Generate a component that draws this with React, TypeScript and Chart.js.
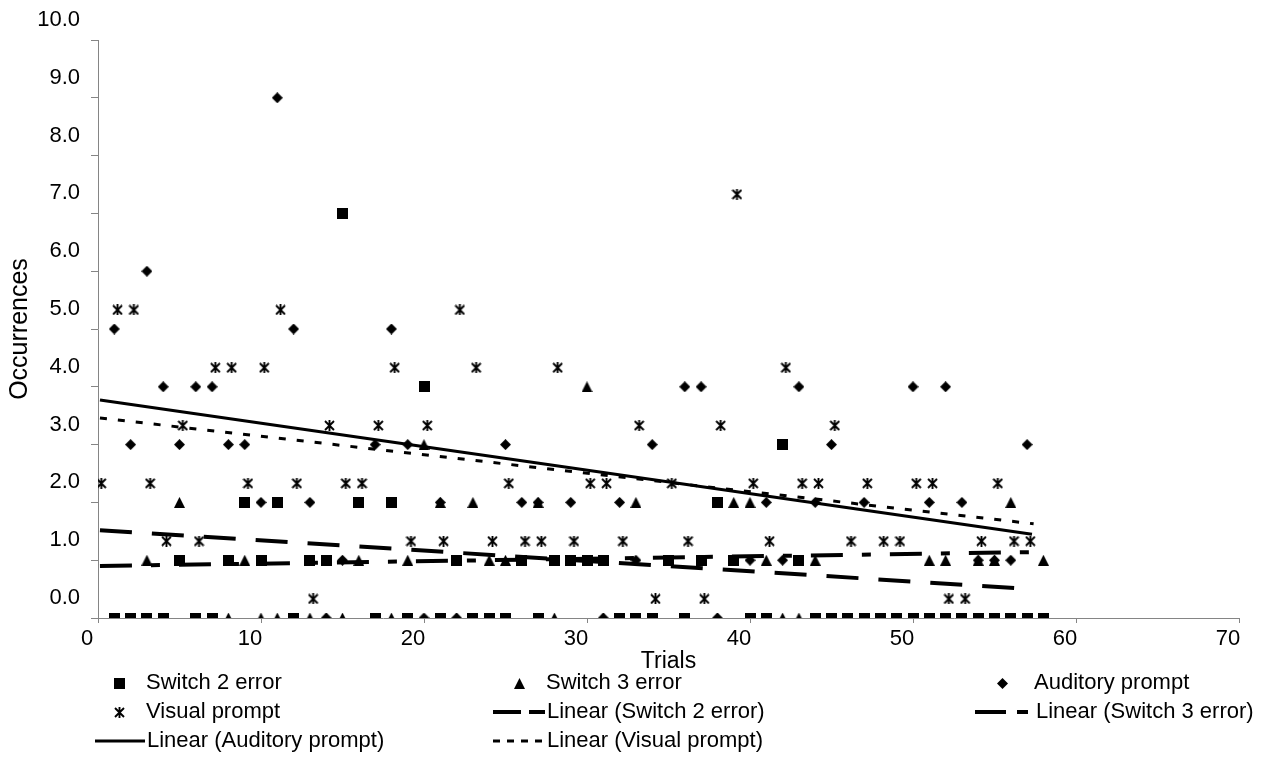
import React, { useEffect, useRef } from 'react';
import { Chart, registerables } from 'chart.js';

Chart.register(...registerables);

const FONT = "'Liberation Sans', Arial, Helvetica, sans-serif";

// ---- data ----
const trials = [
  1, 2, 3, 4, 5, 6, 7, 8, 9, 10, 11, 12, 13, 14, 15, 16, 17, 18, 19, 20,
  21, 22, 23, 24, 25, 26, 27, 28, 29, 30, 31, 32, 33, 34, 35, 36, 37, 38, 39, 40,
  41, 42, 43, 44, 45, 46, 47, 48, 49, 50, 51, 52, 53, 54, 55, 56, 57, 58,
];
const switch2Error = [
  0, 0, 0, 0, 1, 0, 0, 1, 2, 1, 2, 0, 1, 1, 7, 2, 0, 2, 0, 4,
  0, 1, 0, 0, 0, 1, 0, 1, 1, 1, 1, 0, 0, 0, 1, 0, 1, 2, 1, 0,
  0, 3, 1, 0, 0, 0, 0, 0, 0, 0, 0, 0, 0, 0, 0, 0, 0, 0,
];
const switch3Error = [
  0, 0, 1, 0, 2, 0, 0, 0, 1, 0, 0, 0, 0, 0, 0, 1, 0, 0, 1, 3,
  2, 0, 2, 1, 1, 1, 2, 0, 1, 4, 0, 0, 2, 0, 1, 0, 1, 0, 2, 2,
  1, 0, 0, 1, 0, 0, 0, 0, 0, 0, 1, 1, 0, 1, 1, 2, 0, 1,
];
const auditoryPrompt = [
  5, 3, 6, 4, 3, 4, 4, 3, 3, 2, 9, 5, 2, 0, 1, 2, 3, 5, 3, 0,
  2, 0, 0, 0, 3, 2, 2, 1, 2, 1, 0, 2, 1, 3, 1, 4, 4, 0, 1, 1,
  2, 1, 4, 2, 3, 0, 2, 0, 0, 4, 2, 4, 2, 1, 1, 1, 3, 0,
];
const visualTrials = [
  0.2, 1.2, 2.2, 3.2, 4.2, 5.2, 6.2, 7.2, 8.2, 9.2, 10.2, 11.2, 12.2, 13.2, 14.2, 15.2, 16.2, 17.2, 18.2, 19.2,
  20.2, 21.2, 22.2, 23.2, 24.2, 25.2, 26.2, 27.2, 28.2, 29.2, 30.2, 31.2, 32.2, 33.2, 34.2, 35.2, 36.2, 37.2, 38.2, 39.2,
  40.2, 41.2, 42.2, 43.2, 44.2, 45.2, 46.2, 47.2, 48.2, 49.2, 50.2, 51.2, 52.2, 53.2, 54.2, 55.2, 56.2, 57.2,
];
const visualPrompt = [
  2.33, 5.33, 5.33, 2.33, 1.33, 3.33, 1.33, 4.33, 4.33, 2.33, 4.33, 5.33, 2.33, 0.33, 3.33, 2.33, 2.33, 3.33, 4.33, 1.33,
  3.33, 1.33, 5.33, 4.33, 1.33, 2.33, 1.33, 1.33, 4.33, 1.33, 2.33, 2.33, 1.33, 3.33, 0.33, 2.33, 1.33, 0.33, 3.33, 7.33,
  2.33, 1.33, 4.33, 2.33, 2.33, 3.33, 1.33, 2.33, 1.33, 1.33, 2.33, 2.33, 0.33, 0.33, 1.33, 2.33, 1.33, 1.33,
];

// trend lines (start / end) as drawn in the picture
const trendSwitch2X = [0.12, 57.3];
const trendSwitch2Y = [1.52, 0.5];
const trendSwitch3X = [0.12, 57.3];
const trendSwitch3Y = [0.9, 1.14];
const trendAuditoryX = [0.12, 57.3];
const trendAuditoryY = [3.77, 1.45];
const trendVisualX = [0.12, 57.4];
const trendVisualY = [3.46, 1.63];

const xTickValues = [0, 10, 20, 30, 40, 50, 60, 70];
const yTickValues = [0, 1, 2, 3, 4, 5, 6, 7, 8, 9, 10];

const seriesNames = ['Switch 2 error', 'Switch 3 error', 'Auditory prompt', 'Visual prompt'];
const trendNames = [
  'Linear (Switch 2 error)',
  'Linear (Switch 3 error)',
  'Linear (Auditory prompt)',
  'Linear (Visual prompt)',
];

const DASH_S2 = [32, 20];
const DASH_S3 = [32, 19, 9, 19];
const DASH_VIS = [7, 11];

type Kind = 'square' | 'triangle' | 'diamond' | 'star';

function makeMarker(kind: Kind, size: number): HTMLCanvasElement {
  const c = document.createElement('canvas');
  c.width = size;
  c.height = size;
  const g = c.getContext('2d')!;
  g.fillStyle = '#000';
  g.strokeStyle = '#000';
  const s = size;
  g.beginPath();
  if (kind === 'square') {
    g.rect(0, 0, s, s);
    g.fill();
  } else if (kind === 'triangle') {
    g.moveTo(s / 2, 0);
    g.lineTo(s, s);
    g.lineTo(0, s);
    g.closePath();
    g.fill();
  } else if (kind === 'diamond') {
    g.moveTo(s / 2, 0);
    g.lineTo(s, s / 2);
    g.lineTo(s / 2, s);
    g.lineTo(0, s / 2);
    g.closePath();
    g.fill();
  } else {
    g.lineWidth = 1.9;
    g.moveTo(1, 1);
    g.lineTo(s - 1, s - 1);
    g.moveTo(s - 1, 1);
    g.lineTo(1, s - 1);
    g.moveTo(s / 2, 0);
    g.lineTo(s / 2, s);
    g.stroke();
  }
  return c;
}

function pts(xs: number[], ys: number[]) {
  return xs.map((x, i) => ({ x, y: ys[i] }));
}

function makeLegendPlugin(markers: Record<Kind, HTMLCanvasElement>) {
  return {
    id: 'gridLegend',
    afterDraw(chart: any) {
      const ctx: CanvasRenderingContext2D = chart.ctx;
      ctx.save();
      ctx.fillStyle = '#000';
      ctx.strokeStyle = '#000';
      ctx.font = `22px ${FONT}`;
      ctx.textBaseline = 'middle';
      ctx.textAlign = 'left';
      const r1 = 683;
      const r2 = 712;
      const r3 = 741;
      const mark = (k: Kind, x: number, y: number) => {
        const m = markers[k];
        ctx.drawImage(m, Math.round(x - m.width / 2), Math.round(y - m.height / 2));
      };
      mark('square', 119, r1);
      mark('triangle', 519, r1);
      mark('diamond', 1002, r1);
      mark('star', 119, r2);

      const seg = (x0: number, x1: number, y: number, w: number) => {
        ctx.save();
        ctx.lineWidth = w;
        ctx.beginPath();
        ctx.moveTo(x0, y);
        ctx.lineTo(x1, y);
        ctx.stroke();
        ctx.restore();
      };
      // Linear (Switch 2 error)
      seg(493, 521, r2, 4);
      seg(529, 545, r2, 4);
      // Linear (Switch 3 error)
      seg(975, 1006, r2, 4);
      seg(1017, 1028, r2, 4);
      // Linear (Auditory prompt)
      seg(95, 145, r3, 2.8);
      // Linear (Visual prompt)
      seg(493, 500, r3, 3);
      seg(507, 514, r3, 3);
      seg(521, 528, r3, 3);
      seg(535, 542, r3, 3);

      ctx.fillText(seriesNames[0], 146, r1);
      ctx.fillText(seriesNames[1], 546, r1);
      ctx.fillText(seriesNames[2], 1034, r1);
      ctx.fillText(seriesNames[3], 146, r2);
      ctx.fillText(trendNames[0], 547, r2);
      ctx.fillText(trendNames[1], 1036, r2);
      ctx.fillText(trendNames[2], 147, r3);
      ctx.fillText(trendNames[3], 547, r3);
      ctx.restore();
    },
  };
}

export default function App() {
  const ref = useRef<HTMLCanvasElement | null>(null);

  useEffect(() => {
    if (!ref.current) return;
    const markers: Record<Kind, HTMLCanvasElement> = {
      square: makeMarker('square', 11),
      triangle: makeMarker('triangle', 11),
      diamond: makeMarker('diamond', 11),
      star: makeMarker('star', 11),
    };
    const scatter = (label: string, xs: number[], ys: number[], style: any, order: number) => ({
      label,
      data: pts(xs, ys),
      pointStyle: style,
      pointRadius: 6,
      pointHoverRadius: 6,
      pointBackgroundColor: '#000',
      pointBorderColor: '#000',
      pointBorderWidth: 0,
      showLine: false,
      order,
    });
    const trend = (label: string, xs: number[], ys: number[], dash: number[], width: number, order: number) => ({
      label,
      data: pts(xs, ys),
      showLine: true,
      borderColor: '#000',
      borderWidth: width,
      borderDash: dash,
      borderCapStyle: 'butt',
      pointRadius: 0,
      pointHoverRadius: 0,
      fill: false,
      order,
    });

    const chart: any = new Chart(ref.current, {
      type: 'scatter',
      data: {
        datasets: [
          scatter(seriesNames[0], trials, switch2Error, markers.square, 8),
          scatter(seriesNames[1], trials, switch3Error, markers.triangle, 7),
          scatter(seriesNames[2], trials, auditoryPrompt, markers.diamond, 6),
          scatter(seriesNames[3], visualTrials, visualPrompt, markers.star, 5),
          trend(trendNames[0], trendSwitch2X, trendSwitch2Y, DASH_S2, 4, 4),
          trend(trendNames[1], trendSwitch3X, trendSwitch3Y, DASH_S3, 4, 3),
          trend(trendNames[2], trendAuditoryX, trendAuditoryY, [], 3, 2),
          trend(trendNames[3], trendVisualX, trendVisualY, DASH_VIS, 3, 1),
        ] as any,
      },
      options: {
        animation: false,
        responsive: true,
        maintainAspectRatio: false,
        layout: { padding: { left: 0, right: 28, top: 40, bottom: 105 } },
        plugins: {
          legend: { display: false },
          tooltip: { enabled: false },
        },
        scales: {
          x: {
            type: 'linear',
            min: 0,
            max: 70,
            afterBuildTicks: (s: any) => {
              s.ticks = xTickValues.map((v) => ({ value: v }));
            },
            afterFit: (s: any) => {
              s.height = 57;
            },
            ticks: {
              font: { size: 22, family: FONT },
              color: '#000',
              padding: 3,
              labelOffset: -11,
              maxRotation: 0,
              autoSkip: false,
            },
            grid: { drawOnChartArea: false, drawTicks: true, tickLength: 5, color: '#858585' },
            border: { color: '#858585', width: 1 },
            title: {
              display: true,
              text: 'Trials',
              font: { size: 23, family: FONT },
              color: '#000',
              padding: { top: 0, bottom: 0 },
            },
          },
          y: {
            type: 'linear',
            min: 0,
            max: 10,
            afterBuildTicks: (s: any) => {
              s.ticks = yTickValues.map((v) => ({ value: v }));
            },
            afterFit: (s: any) => {
              s.width = 98;
            },
            ticks: {
              font: { size: 22, family: FONT },
              color: '#000',
              padding: 11,
              labelOffset: -20,
              callback: (v: any) => Number(v).toFixed(1),
              autoSkip: false,
            },
            grid: { drawOnChartArea: false, drawTicks: true, tickLength: 7, color: '#858585' },
            border: { color: '#858585', width: 1 },
            title: {
              display: true,
              text: 'Occurrences',
              font: { size: 25, family: FONT },
              color: '#000',
              padding: { top: 5, bottom: 0 },
            },
          },
        },
      },
      plugins: [makeLegendPlugin(markers)],
    } as any);
    return () => chart.destroy();
  }, []);

  return (
    <div style={{ position: 'absolute', left: 0, top: 0, width: 1267, height: 780, background: '#fff' }}>
      <canvas ref={ref} />
    </div>
  );
}
